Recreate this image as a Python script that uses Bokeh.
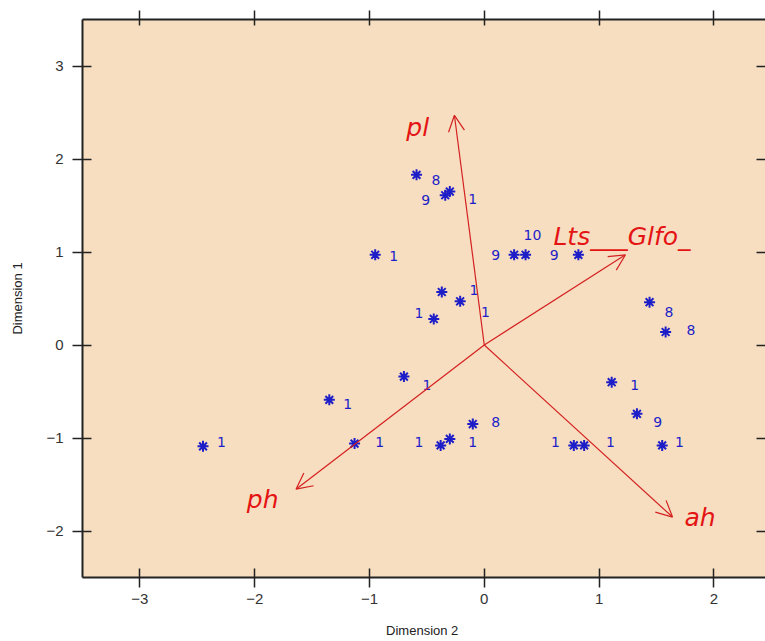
from bokeh.plotting import figure
from bokeh.models import (ColumnDataSource, Arrow, OpenHead, LinearAxis, FixedTicker,
                          CustomJSTickFormatter)
from bokeh.core.properties import value
from bokeh.embed import file_html
from bokeh.resources import INLINE

# ---- data ----
pt_x = [-2.45, -1.35, -1.13, -0.70, -0.95, -0.59, -0.34, -0.30, -0.37, -0.21, -0.44,
        0.26, 0.36, 0.82, 1.44, 1.58, -0.38, -0.30, -0.10, 1.11, 1.33, 0.78, 0.87, 1.55]
pt_y = [-1.09, -0.59, -1.06, -0.34, 0.97, 1.83, 1.61, 1.65, 0.57, 0.47, 0.28,
        0.97, 0.97, 0.97, 0.46, 0.14, -1.08, -1.01, -0.85, -0.40, -0.74, -1.08, -1.08, -1.08]
pt_label = ["1", "1", "1", "1", "1", "8", "9", "1", "1", "1", "1",
            "9", "10", "9", "8", "8", "1", "1", "8", "1", "9", "1", "1", "1"]
lab_x = [-2.29, -1.19, -0.91, -0.50, -0.79, -0.42, -0.51, -0.10, -0.09, 0.01, -0.57,
         0.10, 0.42, 0.61, 1.61, 1.80, -0.57, -0.10, 0.10, 1.31, 1.51, 0.62, 1.10, 1.70]
lab_y = [-1.04, -0.63, -1.04, -0.43, 0.96, 1.77, 1.56, 1.57, 0.59, 0.35, 0.34,
         0.97, 1.18, 0.97, 0.35, 0.16, -1.04, -1.04, -0.83, -0.43, -0.83, -1.04, -1.04, -1.04]

vec_names = ["pl", "ph", "ah", "Lts___Glfo_"]
vec_x = [-0.26, -1.64, 1.64, 1.23]
vec_y = [2.47, -1.55, -1.85, 0.97]
vec_lab_x = [-0.58, -1.93, 1.88, 1.20]
vec_lab_y = [2.34, -1.66, -1.85, 1.17]

x_ticks = [-3, -2, -1, 0, 1, 2]
y_ticks = [-2, -1, 0, 1, 2, 3]
x_title = "Dimension  2"
y_title = "Dimension 1"

def tick_text(v):
    return ("\u2212" + str(abs(v))) if v < 0 else str(v)

BG = "#F7DEC0"
BLUE = "#1E1EC8"
RED = "#E41414"
FRAME = "#222222"
FONT = "Liberation Sans"
WIDE = "DejaVu Sans"

p = figure(width=765, height=641, x_range=(-3.5, 2.45), y_range=(-2.5, 3.5),
           output_backend="svg", toolbar_location=None,
           x_axis_location=None, y_axis_location=None,
           min_border_left=82, min_border_top=19, min_border_bottom=64, min_border_right=0)
p.background_fill_color = BG
p.border_fill_color = "white"
p.outline_line_color = None
p.grid.visible = False

blank = CustomJSTickFormatter(code="return ''")

def style_axis(ax, ticks, labels=True, out=10, inn=9, line=True):
    ax.ticker = FixedTicker(ticks=ticks)
    ax.major_tick_out = out
    ax.major_tick_in = inn
    ax.minor_tick_line_color = None
    ax.major_tick_line_color = FRAME
    ax.major_tick_line_width = 1.5
    ax.axis_line_color = FRAME if line else None
    ax.axis_line_width = 2
    if labels:
        ax.major_label_overrides = {t: tick_text(t) for t in ticks}
        ax.major_label_text_font = FONT
        ax.major_label_text_font_size = "15px"
        ax.major_label_text_color = "#333333"
        ax.major_label_standoff = 6
    else:
        ax.formatter = blank
        ax.major_label_text_font_size = "1px"
        ax.major_label_standoff = 0

bottom = LinearAxis(axis_label=x_title)
style_axis(bottom, x_ticks)
bottom.axis_label_text_font = FONT
bottom.axis_label_text_font_size = "13px"
bottom.axis_label_text_font_style = "normal"
bottom.axis_label_text_color = "#222222"
bottom.axis_label_standoff = 16
p.add_layout(bottom, "below")

left = LinearAxis(axis_label=y_title)
style_axis(left, y_ticks)
left.major_label_standoff = 9
left.axis_label_text_font = FONT
left.axis_label_text_font_size = "13px"
left.axis_label_text_font_style = "normal"
left.axis_label_text_color = "#222222"
left.axis_label_standoff = 18
p.add_layout(left, "left")

top = LinearAxis()
style_axis(top, x_ticks, labels=False, out=9, inn=6)
p.add_layout(top, "above")

right = LinearAxis()
style_axis(right, y_ticks, labels=False, out=0, inn=9, line=False)
p.add_layout(right, "right")

# vectors
vsrc = ColumnDataSource(dict(x0=[0] * len(vec_x), y0=[0] * len(vec_y), x1=vec_x, y1=vec_y))
p.add_layout(Arrow(end=OpenHead(size=16, line_color="#D42020", line_width=1.2),
                   x_start="x0", y_start="y0", x_end="x1", y_end="y1", source=vsrc,
                   line_color="#D42020", line_width=1.2))

lsrc = ColumnDataSource(dict(x=vec_lab_x, y=vec_lab_y, t=vec_names))
p.text(x="x", y="y", text="t", source=lsrc, text_color=RED,
       text_font=value(WIDE), text_font_size="25px", text_font_style="italic",
       text_align="center", text_baseline="middle")

# points
psrc = ColumnDataSource(dict(x=pt_x, y=pt_y))
p.scatter(x="x", y="y", source=psrc, marker="asterisk", size=11,
          line_color=BLUE, line_width=2)

tsrc = ColumnDataSource(dict(x=lab_x, y=lab_y, t=pt_label))
p.text(x="x", y="y", text="t", source=tsrc, text_color=BLUE,
       text_font=value(WIDE), text_font_size="14px",
       text_align="center", text_baseline="middle")

open("out.html", "w").write(file_html(p, INLINE))
